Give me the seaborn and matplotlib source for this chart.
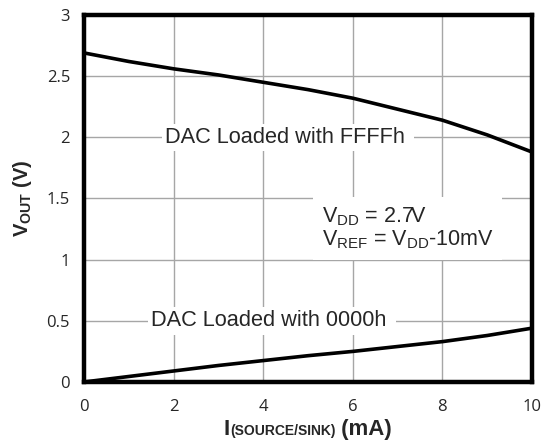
import matplotlib
matplotlib.use("Agg")
import matplotlib.pyplot as plt
import seaborn as sns
import pandas as pd
from matplotlib.offsetbox import TextArea, HPacker, AnchoredOffsetbox

# ---- data ----
current_ma = [0, 1, 2, 3, 4, 5, 6, 7, 8, 9, 10]
vout_ffff = [2.69, 2.62, 2.56, 2.51, 2.45, 2.39, 2.32, 2.23, 2.14, 2.02, 1.88]
vout_0000 = [0.0, 0.045, 0.09, 0.135, 0.175, 0.215, 0.25, 0.29, 0.33, 0.38, 0.44]
series_names = ["FFFFh", "0000h"]
x_ticks = [0, 2, 4, 6, 8, 10]
y_ticks = [0, 0.5, 1, 1.5, 2, 2.5, 3]
y_tick_labels = ["0", "0.5", "1", "1.5", "2", "2.5", "3"]

df = pd.DataFrame({
    "I": current_ma + current_ma,
    "V": vout_ffff + vout_0000,
    "code": [series_names[0]] * len(current_ma) + [series_names[1]] * len(current_ma),
})

sns.set_style("white")
plt.rcParams["font.family"] = ["Liberation Sans", "DejaVu Sans"]
plt.rcParams["mathtext.fontset"] = "custom"
plt.rcParams["mathtext.rm"] = "Liberation Sans"
plt.rcParams["mathtext.bf"] = "Liberation Sans:bold"

fig = plt.figure(figsize=(5.42, 4.41), dpi=100)
ax = fig.add_axes([0.155, 0.1338, 0.8265, 0.8322])

sns.lineplot(data=df, x="I", y="V", hue="code", palette=["black", "black"],
             linewidth=2.6, legend=False, ax=ax, zorder=3)

ax.set_xlim(0, 10)
ax.set_ylim(0, 3)
ax.set_xticks(x_ticks)
ax.set_yticks(y_ticks)
ax.set_yticklabels(y_tick_labels)
ax.grid(True, color="#a6a6a6", linewidth=1.0)
ax.set_axisbelow(True)
for s in ax.spines.values():
    s.set_visible(True)
    s.set_color("black")
    s.set_linewidth(3.2)
    s.set_zorder(5)
ax.tick_params(axis="both", length=0, labelsize=12, labelfontfamily="Open Sans")
ax.tick_params(axis="y", pad=10)
ax.tick_params(axis="x", pad=12)

ax.set_xlabel("")
ax.set_ylabel(r"$\mathbf{V_{OUT}}$ (V)", fontsize=14.5, fontweight="bold", labelpad=9)

# x label built from pieces with a small subscript
ta1 = TextArea("I", textprops=dict(fontsize=16, fontweight="bold"))
ta2 = TextArea("(SOURCE/SINK)", textprops=dict(fontsize=10, fontweight="bold"))
ta3 = TextArea(" (mA)", textprops=dict(fontsize=16, fontweight="bold"))
box = HPacker(children=[ta1, ta2, ta3], align="baseline", pad=0, sep=0)
anch = AnchoredOffsetbox(loc="upper center", child=box, frameon=False,
                         bbox_to_anchor=(0.5, -0.1), bbox_transform=ax.transAxes,
                         borderpad=0, pad=0)
ax.add_artist(anch)

white_box = dict(boxstyle="square,pad=0.15", facecolor="white", edgecolor="none")
ax.text(1.81, 2.0, "DAC Loaded with FFFFh ", fontsize=15.7, va="center", ha="left",
        bbox=white_box, zorder=4)
ax.text(1.50, 0.5, "DAC Loaded with 0000h ", fontsize=15.7, va="center", ha="left",
        bbox=white_box, zorder=4)
ax.text(5.31, 1.255, "$\\mathregular{V_{DD}}$ = 2.7V\n$\\mathregular{V_{REF}}$ = $\\mathregular{V_{DD}}$-10mV",
        fontsize=15.5, va="center", ha="left", linespacing=1.0,
        bbox=dict(boxstyle="square,pad=0.4", facecolor="white", edgecolor="none"), zorder=4)

fig.savefig("out.png", dpi=100)
